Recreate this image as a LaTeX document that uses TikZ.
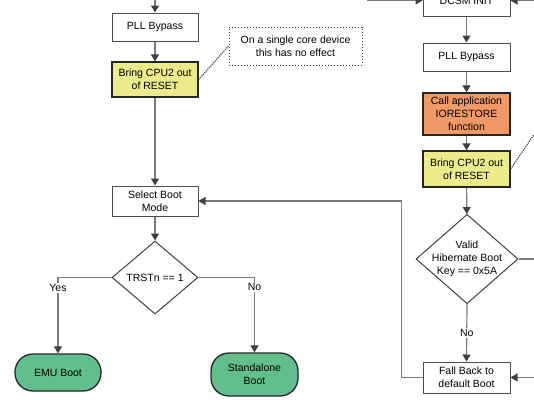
\documentclass[tikz,border=0pt]{standalone}
\usepackage{fontspec}
\setmainfont{Liberation Sans}
\usepackage{xcolor}
\usetikzlibrary{arrows.meta, shapes.geometric, calc}

\definecolor{resetyellow}{HTML}{EBEB8C}
\definecolor{restoreorange}{HTML}{EF9A66}
\definecolor{bootgreen}{HTML}{62BE8C}
\definecolor{linegray}{HTML}{7A7A7A}
\definecolor{tipgray}{HTML}{404040}

\begin{document}
\begin{tikzpicture}[
  x=1pt, y=-1pt,
  txt/.style={font=\fontsize{10.5}{12.8}\selectfont},
  block/.style={
    txt,
    rectangle,
    draw=black!70,
    line width=1pt,
    fill=white,
    minimum width=86pt,
    inner sep=0pt,
    align=center
  },
  hotblock/.style={block, draw=black!85, line width=1.3pt},
  decision/.style={
    txt,
    diamond,
    draw=black!75,
    line width=1pt,
    fill=white,
    inner sep=-4pt,
    align=center
  },
  terminal/.style={
    txt,
    rectangle,
    rounded corners=18pt,
    draw=black!85,
    line width=1.3pt,
    fill=bootgreen,
    minimum width=86pt,
    align=center
  },
  remark/.style={
    txt,
    rectangle,
    draw=black!75,
    dotted,
    line width=1pt,
    minimum width=133pt,
    minimum height=38pt,
    align=center
  },
  arrow/.style={draw=linegray, line width=1.2pt, -{Triangle[length=7pt, width=8pt, color=tipgray]}},
  link/.style={draw=linegray, line width=1.2pt},
  lbl/.style={txt, fill=white, inner sep=1pt}
]

  \useasboundingbox (0,0) rectangle (534,418);
  \clip (0,0) rectangle (534,418);

  % Nodes, left column
  \node (pllL) [block, minimum height=28pt] at (155,27)     {PLL Bypass};
  \node (cpuL) [hotblock, fill=resetyellow, minimum height=35pt] at (155,79.5) {Bring CPU2 out\\of RESET};
  \node (noteL) [remark] at (295.5,46)                      {On a single core device\\this has no effect};
  \node (selL) [block, minimum height=30pt] at (155,201)    {Select Boot\\Mode};
  \node (trst) [decision, minimum width=86pt, minimum height=73pt] at (155,277.5) {TRSTn == 1};
  \node (emu) [terminal, minimum height=37pt] at (58,372.5) {EMU Boot};
  \node (alone) [terminal, minimum width=87pt, minimum height=43pt] at (254.5,374.5) {Standalone\\Boot};

  % Nodes, right column
  \node (dcsm) [block, minimum width=87pt, minimum height=32pt] at (466.5,0.5) {DCSM INIT};
  \node (pllR) [block, minimum width=87pt, minimum height=28pt] at (466.5,57) {PLL Bypass};
  \node (ioR) [hotblock, fill=restoreorange, minimum width=87pt, minimum height=42pt] at (466.5,114) {Call application\\IORESTORE\\function};
  \node (cpuR) [hotblock, fill=resetyellow, minimum width=87pt, minimum height=36pt] at (466.5,169) {Bring CPU2 out\\of RESET};
  \node (hib) [decision, minimum width=102pt, minimum height=88pt] at (467,259) {Valid\\Hibernate Boot\\Key == 0x5A};
  \node (fall) [block, minimum width=87pt, minimum height=31pt] at (466.5,377.5) {Fall Back to\\default Boot};

  % loose ends, outside the crop
  \coordinate (inTop) at (155,-10);
  \coordinate (inLeft) at (367,0.5);
  \coordinate (inRight) at (545,0.5);
  \coordinate (noteR) at (552,108);
  \coordinate (yesR) at (565,259);
  \coordinate (inFall) at (545,377.5);

  % Arrows
  \draw [arrow] (inTop) -- (pllL);
  \draw [arrow] (pllL) -- (cpuL);
  \draw [arrow] (cpuL) -- (selL);
  \draw [arrow] (selL) -- (trst);
  \draw [arrow] (trst.west) -| node [lbl, pos=0.57] {Yes} (emu.north);
  \draw [arrow] (trst.east) -| node [lbl, pos=0.565] {No} (alone.north);
  \draw [link, densely dotted, draw=black!70] (cpuL.east) -- (noteL.west);

  \draw [arrow] (inLeft) -- (dcsm.west);
  \draw [arrow] (inRight) -- (dcsm.east);
  \draw [arrow] (dcsm) -- (pllR);
  \draw [arrow] (pllR) -- (ioR);
  \draw [arrow] (ioR) -- (cpuR);
  \draw [arrow] (cpuR) -- (hib);
  \draw [link, densely dotted, draw=black!70] (cpuR.east) -- (noteR);
  \draw [link] (hib.east) -- node [lbl, pos=0.56] {Yes} (yesR);
  \draw [arrow] (hib.south) -- node [lbl, pos=0.5] {No} (fall.north);
  \draw [arrow] (inFall) -- (fall.east);
  \draw [arrow] (fall.west) -- ++(-21,0) |- (selL.east);

\end{tikzpicture}
\end{document}
